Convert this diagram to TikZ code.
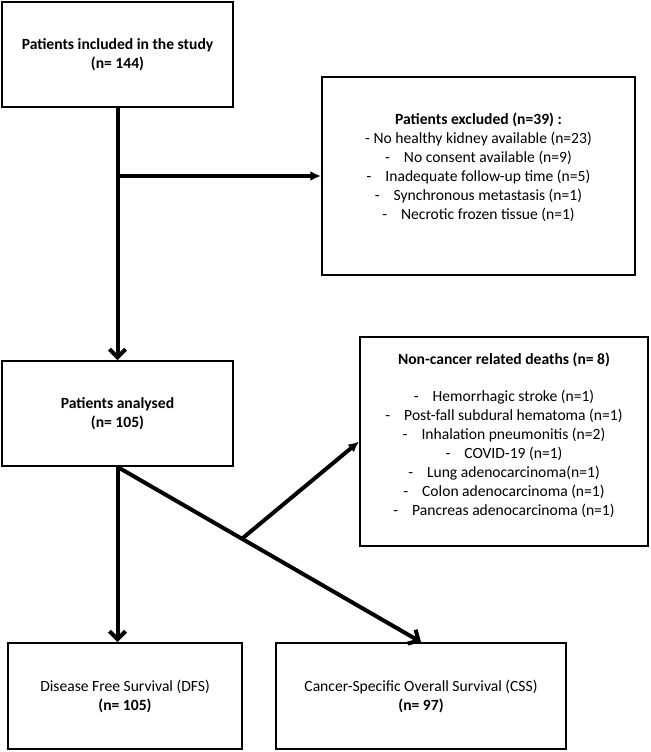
\documentclass[tikz,border=0pt]{standalone}
\usepackage{fontspec}
\setmainfont{Carlito}
\usetikzlibrary{arrows.meta,calc}

\newcommand{\dsh}{-\hspace{0.9em}}

\begin{document}
\begin{tikzpicture}[x=0.75pt,y=-0.75pt,
            every node/.style={draw,rectangle,line width=1.4pt,align=center,font=\fontsize{11.7}{14.25}\selectfont},
            vtip/.style={-{Straight Barb[length=6pt,width=12pt]}},
            ftip/.style={-{Latex[length=8pt,width=7.5pt]}}]
                \useasboundingbox (0,0) rectangle (650,752);
                \node[minimum width=173.25pt,minimum height=78.75pt](incl) at (117.5,54.5)
                    {\textbf{Patients included in the study}\\\textbf{(n= 144)}};
                \node[minimum width=234.75pt,minimum height=148.5pt](excl) at (478.5,176)
                    {\textbf{Patients excluded (n=39) :}\\
                     - No healthy kidney available (n=23)\\
                     \dsh No consent available (n=9)\\
                     \dsh Inadequate follow-up time (n=5)\\
                     \dsh Synchronous metastasis (n=1)\\
                     \dsh Necrotic frozen tissue (n=1)\\};
                \node[minimum width=173.25pt,minimum height=78.75pt](anal) at (117.5,413.5)
                    {\textbf{Patients analysed}\\\textbf{(n= 105)}};
                \node[minimum width=216pt,minimum height=156.75pt](deaths) at (504,441.5)
                    {\textbf{Non-cancer related deaths (n= 8)}\\[13.5pt]
                     \dsh Hemorrhagic stroke (n=1)\\
                     \dsh Post-fall subdural hematoma (n=1)\\
                     \dsh Inhalation pneumonitis (n=2)\\
                     \dsh COVID-19 (n=1)\\
                     \dsh Lung adenocarcinoma(n=1)\\
                     \dsh Colon adenocarcinoma (n=1)\\
                     \dsh Pancreas adenocarcinoma (n=1)\\[-3.75pt]};
                \node[minimum width=175.5pt,minimum height=79.5pt](dfs) at (125,696)
                    {Disease Free Survival (DFS)\\\textbf{(n= 105)}};
                \node[minimum width=217.5pt,minimum height=79.5pt](css) at (421,696)
                    {Cancer-Specific Overall Survival (CSS)\\\textbf{(n= 97)}};
                \coordinate(br) at ($(anal.south)!0.41!(css.north)$);

            \begin{scope}[line width=3pt]
                \draw[vtip](incl.south)--(anal.north);
                \draw[ftip](incl.south |- excl.west)--(excl.west);
                \draw[vtip](anal.south)--(anal.south |- dfs.north);
                \draw[vtip](anal.south)--(css.north);
                \draw[ftip](br)--(deaths.west);
            \end{scope}
        \end{tikzpicture}
\end{document}
